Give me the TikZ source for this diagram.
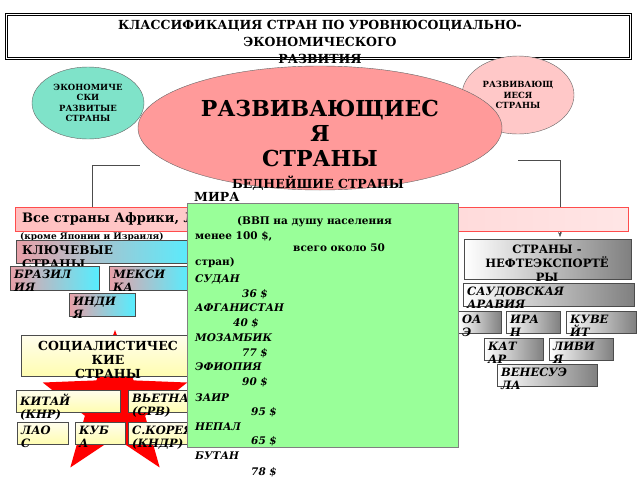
\documentclass[tikz,border=0pt]{standalone}
\usepackage{fontspec}
\setmainfont{DejaVu Serif}
\usetikzlibrary{shapes.geometric,arrows.meta}
\definecolor{salmon}{HTML}{FF9A9A}
\definecolor{mint}{HTML}{7FE3C9}
\definecolor{lpink}{HTML}{FFC8C8}
\definecolor{lgreen}{HTML}{99FF99}
\definecolor{kcyan}{HTML}{55EEFF}
\definecolor{kpink}{HTML}{E8A0A8}
\definecolor{lyel}{HTML}{FFFBE0}
\tikzset{
  bx/.style={draw=black!70, line width=0.8pt},
  keyc/.style={bx, left color=kpink, right color=kcyan},
  soc/.style={bx, top color=lyel!60!white, bottom color=lyel!70!yellow!80!white},
  oil/.style={bx, left color=white, right color=black!50},
  txt/.style={anchor=north west, align=left, inner sep=0pt, font=\bfseries\itshape\fontsize{11.5}{13}\selectfont},
  gl/.style={anchor=west, inner sep=0pt, font=\bfseries\fontsize{10.5}{11}\selectfont},
  gi/.style={gl, font=\bfseries\itshape\fontsize{10.5}{11}\selectfont},
}
\newcommand{\bxx}[7]{\node[#6, anchor=north west, minimum width=#4pt-#2pt, minimum height=#5pt-#3pt, inner sep=0pt] (#1) at (#2,#3) {};
  \node[txt] at ([shift={(4pt,-4pt)}]#1.north west) {#7};}
\begin{document}
\begin{tikzpicture}[x=1pt,y=-1pt]
\useasboundingbox[fill=white] (0,0) rectangle (640,480);
% title
\node[draw, double, double distance=1pt, line width=0.8pt, anchor=north west, minimum width=624pt, minimum height=44pt, inner sep=0pt] (title) at (6,14) {};
\node[anchor=north, align=center, font=\bfseries\fontsize{12.5}{17}\selectfont, inner sep=0pt] (tt) at (320,20) {КЛАССИФИКАЦИЯ СТРАН ПО УРОВНЮСОЦИАЛЬНО-\\ЭКОНОМИЧЕСКОГО\\РАЗВИТИЯ};
% connectors
\coordinate (l1) at (92,165); \coordinate (l2) at (92,207);
\coordinate (r0) at (518,160); \coordinate (r1) at (560,160); \coordinate (r2) at (560,237);
\draw[black!70] (l1) -- (140,165);
\draw[black!70] (l1) -- (l2);
\draw[black!70] (r0) -- (r1);
\draw[black!70,-{Stealth[length=5pt]}] (r1) -- (r2);
% ellipses
\node[ellipse, draw=black!60, fill=mint, minimum width=112pt, minimum height=72pt, align=center, font=\bfseries\fontsize{8.5}{10.5}\selectfont, inner sep=0pt] (dev) at (88,103) {ЭКОНОМИЧЕ\\СКИ\\РАЗВИТЫЕ\\СТРАНЫ};
\node[ellipse, draw=black!60, fill=lpink, minimum width=112pt, minimum height=78pt, align=center, font=\bfseries\fontsize{8.5}{10.5}\selectfont, inner sep=0pt] (devg) at (518,95) {РАЗВИВАЮЩ\\ИЕСЯ\\СТРАНЫ};
\node[ellipse, draw=black!60, fill=salmon, minimum width=364pt, minimum height=124pt, inner sep=0pt] (big) at (320,128) {};
\node[align=center, font=\bfseries\fontsize{22}{25}\selectfont, inner sep=0pt] (bigt) at (320,133) {РАЗВИВАЮЩИЕС\\Я\\СТРАНЫ};
% pink bar
\node[draw=red!70, left color=red!25, right color=red!10, anchor=north west, minimum width=613pt, minimum height=24pt, inner sep=0pt] (all) at (15,207) {};
\node[anchor=west, font=\bfseries\fontsize{13}{15}\selectfont, inner sep=0pt] (allt) at (22,219) {Все страны Африки, Латинской Америки и Азии};
\node[anchor=north west, font=\bfseries\fontsize{9}{10}\selectfont, inner sep=0pt] (exc) at (20,232) {(кроме Японии и Израиля)};
% key countries
\node[keyc, anchor=north west, minimum width=179pt, minimum height=23pt, inner sep=0pt] (key) at (16,240) {};
\node[anchor=north west, align=left, font=\bfseries\fontsize{12}{14}\selectfont, inner sep=0pt] (keyt) at (22,245) {КЛЮЧЕВЫЕ\\СТРАНЫ};
\bxx{bra}{10}{266}{99}{290}{keyc}{БРАЗИЛ\\ИЯ}
\bxx{mex}{109}{266}{190}{290}{keyc}{МЕКСИ\\КА}
\bxx{ind}{69}{293}{135}{316}{keyc}{ИНДИ\\Я}
% star
\node[star, star points=5, star point ratio=2.4, fill=red, minimum size=152pt, inner sep=0pt] (star) at (115,406) {};
% socialist
\node[soc, anchor=north west, minimum width=174pt, minimum height=41pt, inner sep=0pt] (socb) at (21,335) {};
\node[anchor=north, align=center, font=\bfseries\fontsize{12.5}{14}\selectfont, inner sep=0pt] (soct) at (108,341) {СОЦИАЛИСТИЧЕС\\КИЕ\\СТРАНЫ};
\bxx{chn}{16}{390}{120}{412}{soc}{КИТАЙ\\(КНР)}
\bxx{vie}{128}{390}{195}{412}{soc}{ВЬЕТНАМ\\(СРВ)}
\bxx{lao}{17}{422}{68}{444}{soc}{ЛАО\\С}
\bxx{cub}{75}{422}{125}{444}{soc}{КУБ\\А}
\bxx{kor}{128}{422}{195}{444}{soc}{С.КОРЕЯ\\(КНДР)}
% oil
\node[oil, anchor=north west, minimum width=167pt, minimum height=40pt, inner sep=0pt] (oilh) at (464,239) {};
\node[anchor=north, align=center, font=\bfseries\fontsize{11.5}{14}\selectfont, inner sep=0pt] (oilt) at (547,245) {СТРАНЫ -\\НЕФТЕЭКСПОРТЁ\\РЫ};
\bxx{sau}{463}{283}{634}{306}{oil}{САУДОВСКАЯ\\АРАВИЯ}
\bxx{oae}{458}{311}{501}{333}{oil}{ОА\\Э}
\bxx{ira}{506}{311}{560}{333}{oil}{ИРА\\Н}
\bxx{kuw}{566}{311}{636}{333}{oil}{КУВЕ\\ЙТ}
\bxx{kat}{484}{338}{543}{360}{oil}{КАТ\\АР}
\bxx{liv}{549}{338}{613}{360}{oil}{ЛИВИ\\Я}
\bxx{ven}{497}{364}{597}{386}{oil}{ВЕНЕСУЭ\\ЛА}
% poorest
\node[anchor=center, font=\bfseries\fontsize{12.5}{14}\selectfont, inner sep=0pt] (poor) at (318,183) {БЕДНЕЙШИЕ СТРАНЫ};
\node[draw=black!50, fill=lgreen, anchor=north west, minimum width=271pt, minimum height=244pt, inner sep=0pt] (grn) at (187,203) {};
\node[anchor=west, font=\bfseries\fontsize{12.5}{14}\selectfont, inner sep=0pt] (mira) at (194,197) {МИРА};
\node[gl] at (237,222) {(ВВП на душу населения};
\node[gl] at (195,236) {менее 100 \$,};
\node[gl] at (293,248) {всего около 50};
\node[gl] at (195,263) {стран)};
\node[gi] at (195,279) {СУДАН};
\node[gi] at (242,294) {36 \$};
\node[gi] at (195,308) {АФГАНИСТАН};
\node[gi] at (233,323) {40 \$};
\node[gi] at (195,338) {МОЗАМБИК};
\node[gi] at (242,353) {77 \$};
\node[gi] at (195,367) {ЭФИОПИЯ};
\node[gi] at (242,382) {90 \$};
\node[gi] at (195,398) {ЗАИР};
\node[gi] at (251,412) {95 \$};
\node[gi] at (195,427) {НЕПАЛ};
\node[gi] at (251,441) {65 \$};
\node[gi] at (195,456) {БУТАН};
\node[gi] at (251,472) {78 \$};
\end{tikzpicture}
\end{document}
